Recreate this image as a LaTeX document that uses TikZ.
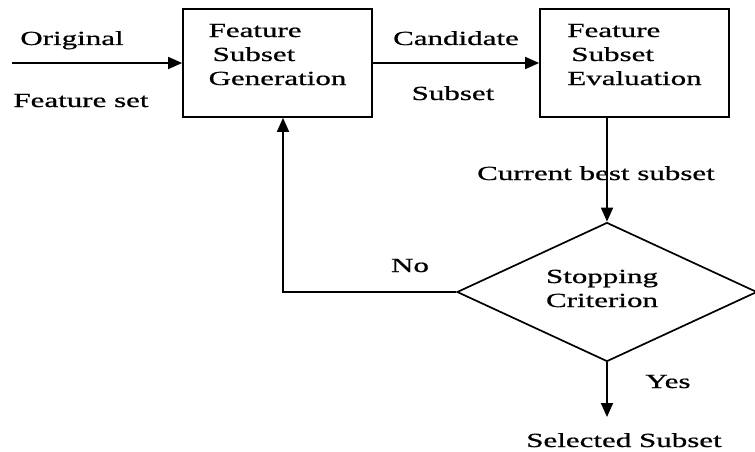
\documentclass[tikz,border=0pt]{standalone}
\usepackage{fontspec}
\setmainfont{Liberation Serif}[FakeStretch=1.55,FakeBold=0.8]
\usetikzlibrary{arrows.meta,shapes.geometric}
\begin{document}
\begin{tikzpicture}[x=1pt,y=-1pt,
  line width=1.7pt,
  arr/.style={-{Triangle[length=14pt,width=12pt]}},
  txt/.style={font=\fontsize{20}{24}\selectfont, inner sep=0pt, anchor=base},
  boxtxt/.style={txt, align=left},
  blk/.style={draw, rectangle, minimum width=189pt, minimum height=108pt, inner sep=0pt},
  dia/.style={draw, diamond, minimum width=300pt, minimum height=139pt, inner sep=0pt}]
\useasboundingbox (0,0) rectangle (755,452);

\node[blk] (gen) at (277.5,63) {};
\node[blk] (eval) at (634.5,63) {};
\node[dia] (stop) at (607,292) {};

\node[boxtxt] (gentxt) at (277.5,85) {Feature\\\hspace*{4pt}Subset\\Generation};
\node[boxtxt] (evaltxt) at (634.5,85) {Feature\\\hspace*{4pt}Subset\\Evaluation};
\node[txt, align=center] (stoptxt) at (602,307) {Stopping\\Criterion};

\coordinate (in) at (12,63);
\coordinate (corner) at (283,292);
\coordinate (out) at (607,417);

\draw[arr] (in) -- (gen.west);
\draw[arr] (gen.east) -- (eval.west);
\draw[arr] (eval.south -| stop.north) -- (stop.north);
\draw[arr] (stop.west) -- (corner |- stop.west) -- (corner |- gen.south);
\draw[arr] (stop.south) -- (out);

\node[txt] (orig) at (72,45) {Original};
\node[txt] (fset) at (81,107) {Feature set};
\node[txt] (cand) at (456,45) {Candidate};
\node[txt] (sub) at (453,100) {Subset};
\node[txt] (best) at (596,180) {Current best subset};
\node[txt] (no) at (410,272) {No};
\node[txt] (yes) at (668,388) {Yes};
\node[txt] (sel) at (624,447) {Selected Subset};
\end{tikzpicture}
\end{document}
